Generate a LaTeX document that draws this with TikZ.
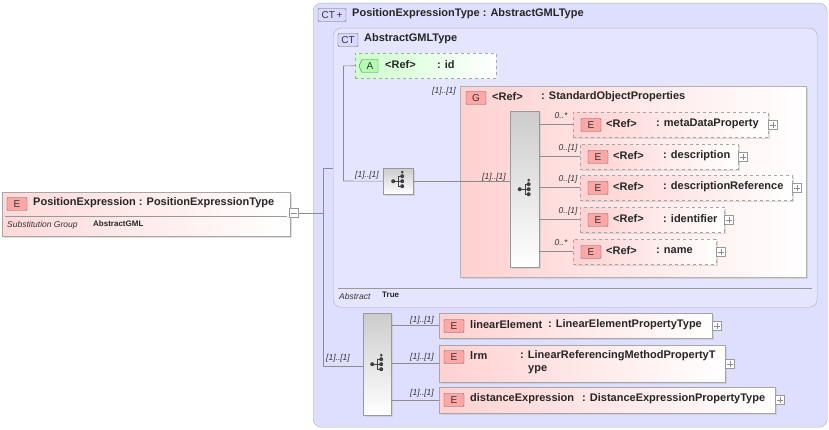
\documentclass[tikz,border=0pt]{standalone}
\usepackage{fontspec}
\setmainfont{Liberation Sans}
\usetikzlibrary{shadows}
\begin{document}
\begin{tikzpicture}[x=1pt,y=-1pt,
  txt/.style={anchor=west,inner sep=0pt,font=\fontsize{11}{13}\selectfont\bfseries,text=black!85},
  card/.style={font=\fontsize{8.5}{10}\selectfont\itshape,inner sep=0pt,text=black!80},
  badge/.style={draw=black!60,rounded corners=1pt,inner sep=0pt,minimum height=13pt,font=\fontsize{10}{11}\selectfont,text=black!80},
  ebadge/.style={badge,fill=red!35,minimum width=20pt},
  elem/.style={draw=black!35,left color=red!18,right color=white,drop shadow={shadow xshift=1.5pt,shadow yshift=-1.5pt,fill=black!25}},
  delem/.style={elem,dashed},
  seq/.style={draw=black!40,left color=black!20,right color=white,shading angle=0,drop shadow={shadow xshift=1.5pt,shadow yshift=-1.5pt,fill=black!25}},
  plus/.style={draw=black!40,fill=white,minimum size=9pt,inner sep=0pt},
  ln/.style={draw=black!45,line width=0.6pt}]
\useasboundingbox (0,0) rectangle (829,430);
% outer CT
\node[draw=black!30,fill=blue!13,rounded corners=8pt,minimum width=514pt,minimum height=424pt,anchor=north west,inner sep=0pt] (ct) at (313,3) {};
\node[badge,fill=blue!15,minimum width=28pt] (ctb) at (332,15) {CT\,+};
\node[txt] (ctt) at (352,14) {PositionExpressionType : AbstractGMLType};
% inner CT
\node[draw=black!30,fill=blue!10,rounded corners=8pt,minimum width=484pt,minimum height=279pt,anchor=north west,inner sep=0pt] (ict) at (333,28) {};
\node[badge,fill=blue!15,minimum width=20pt] (ictb) at (348,40) {CT};
\node[txt] (ictt) at (364,39) {AbstractGMLType};
\draw[black!40] (338,288) -- (812,288);
\node[card,anchor=west] (abs) at (339,296) {Abstract};
\node[txt,font=\fontsize{8}{9}\selectfont\bfseries] (abst) at (382,295) {True};
% attribute
\node[draw=black!35,dashed,left color=green!20,right color=white,minimum width=141pt,minimum height=25pt,anchor=north west,inner sep=0pt] (att) at (355,53) {};
\draw[draw=black!60,fill=green!30] (362,59.5) -- (378,59.5) -- (378,72.5) -- (362,72.5) -- (359,66) -- cycle;
\node[inner sep=0pt,font=\fontsize{10}{11}\selectfont,text=black!80] (attb) at (370,66) {A};
\node[txt] (atr) at (385,65) {<Ref>};
\node[txt] (ati) at (437,65) {: id};
% group
\node[draw=black!30,left color=red!18,right color=white,minimum width=346pt,minimum height=191pt,anchor=north west,inner sep=0pt,drop shadow={shadow xshift=2pt,shadow yshift=-2pt,fill=black!25}] (grp) at (460,86) {};
\node[ebadge] (gb) at (476,98) {G};
\node[txt] (gr) at (492,97) {<Ref>};
\node[txt] (gt) at (541,97) {: StandardObjectProperties};
\node[card] (gc) at (444,91) {[1]..[1]};
% sequences
\node[seq,minimum width=29pt,minimum height=156pt,anchor=north west,inner sep=0pt] (sg) at (510,111) {};
\node[seq,minimum width=30pt,minimum height=26pt,anchor=north west,inner sep=0pt] (ss) at (383,168) {};
\node[seq,minimum width=28pt,minimum height=102pt,anchor=north west,inner sep=0pt] (sb) at (363,313) {};
\foreach \s in {sg,ss,sb}{
  \begin{scope}[shift={(\s.center)},black!75]
    \draw (-5,0) -- (0,0) (0,-5) -- (0,5) (0,-5) -- (4,-5) (0,0)--(4,0) (0,5)--(4,5);
    \fill (-5,0) circle (2) (4,-5) circle (2) (4,0) circle (2) (4,5) circle (2) (4,-9) circle (1.5);
  \end{scope}}
\node[card] (ssc) at (367,175) {[1]..[1]};
\node[card] (sgc) at (494,177) {[1]..[1]};
\node[card] (sbc) at (338,358) {[1]..[1]};
% group elements
\foreach \n/\x/\y/\w/\t/\c in {g1/573/112/195/metaDataProperty/0..*,g2/580/144/158/description/0..[1],g3/580/175/212/descriptionReference/0..[1],g4/580/207/144/identifier/0..[1],g5/573/239/143/name/0..*}{
  \node[delem,minimum width=\w pt,minimum height=25pt,anchor=north west,inner sep=0pt] (\n) at (\x,\y) {};
  \node[ebadge] (\n b) at (\x+18,\y+13) {E};
  \node[txt] (\n r) at (\x+33,\y+12) {<Ref>};
  \node[txt] (\n t) at (\x+83,\y+12) {: \t};
  \node[plus] (\n p) at (\x+\w+5,\y+13) {};
  \draw[black!45] ([xshift=2pt]\n p.west) -- ([xshift=-2pt]\n p.east) ([yshift=2pt]\n p.south) -- ([yshift=-2pt]\n p.north);
  \node[card] (\n c) at (\x-12,\y+4) {\c};
  \draw[ln] (sg.east |- \n.west) -- (\n.west);
}
% bottom elements
\node[elem,minimum width=273pt,minimum height=25pt,anchor=north west,inner sep=0pt] (b1) at (439,313) {};
\node[ebadge] (b1b) at (454,326) {E};
\node[txt] (b1n) at (470,325) {linearElement};
\node[txt] (b1t) at (548,325) {: LinearElementPropertyType};
\node[plus] (b1p) at (717,326) {};
\node[elem,minimum width=286pt,minimum height=37pt,anchor=north west,inner sep=0pt] (b2) at (439,345) {};
\node[ebadge] (b2b) at (454,357) {E};
\node[txt] (b2n) at (470,356) {lrm};
\node[txt,anchor=north west,align=left] (b2t) at (520,350) {: LinearReferencingMethodPropertyT\\\hspace*{8pt}ype};
\node[plus] (b2p) at (730,364) {};
\node[elem,minimum width=336pt,minimum height=26pt,anchor=north west,inner sep=0pt] (b3) at (439,387) {};
\node[ebadge] (b3b) at (454,400) {E};
\node[txt] (b3n) at (470,399) {distanceExpression};
\node[txt] (b3t) at (582,399) {: DistanceExpressionPropertyType};
\node[plus] (b3p) at (780,400) {};
\foreach \p in {b1p,b2p,b3p}{
  \draw[black!45] ([xshift=2pt]\p.west) -- ([xshift=-2pt]\p.east) ([yshift=2pt]\p.south) -- ([yshift=-2pt]\p.north);}
\foreach \n/\y in {b1/320,b2/357,b3/393}{
  \node[card] at (422,\y) {[1]..[1]};
  \draw[ln] (sb.east |- \n.west) -- (\n.west);
}
% left element
\node[draw=black!35,left color=red!15,right color=white,minimum width=288pt,minimum height=44pt,anchor=north west,inner sep=0pt,drop shadow={shadow xshift=1.5pt,shadow yshift=-1.5pt,fill=black!25}] (pe) at (2,192) {};
\node[ebadge] (peb) at (17,204) {E};
\node[txt] (pet) at (33,203) {PositionExpression : PositionExpressionType};
\draw[black!40] (5,216) -- (287,216);
\node[card,anchor=west] (pes) at (7,225) {Substitution Group};
\node[txt,font=\fontsize{8}{9}\selectfont\bfseries] (pesv) at (93,224) {AbstractGML};
\node[plus] (pep) at (294,213) {};
\draw[black!45] ([xshift=2pt]pep.west) -- ([xshift=-2pt]pep.east);
% connectors
\coordinate (j) at (323,213);
\draw[ln] (pep.east) -- (j);
\draw[ln] (323,168) -- (323,366);
\draw[ln] (323,168) -- (ict.west |- 0,168);
\draw[ln] (343,66) -- (343,181);
\draw[ln] (343,66) -- (att.west);
\draw[ln] (343,181) -- (ss.west);
\draw[ln] (ss.east) -- (grp.west |- ss.east) -- (sg.west |- ss.east);
\draw[ln] (323,366) -- (sb.west |- 0,366);
\end{tikzpicture}
\end{document}
